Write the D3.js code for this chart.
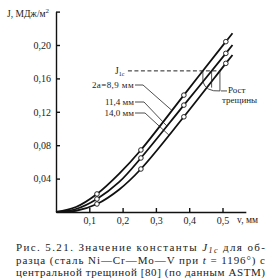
<!DOCTYPE html>
<html>
<head>
<meta charset="utf-8">
<script src="https://cdn.jsdelivr.net/npm/d3@7"></script>
<style>
  body { margin: 0; background: #fff; }
  svg text { font-family: "Liberation Serif", "DejaVu Serif", serif; }
</style>
</head>
<body>
<div id="chart"></div>
<script>
// data
var seriesNames = ["2а=8,9 мм", "11,4 мм", "14,0 мм"];
var vPoints = [0, 0.06, 0.123, 0.19, 0.255, 0.384, 0.51, 0.53];
var jSeries1 = [0, 0.006, 0.0216, 0.046, 0.0743, 0.140, 0.204, 0.214];
var jSeries2 = [0, 0.0036, 0.0156, 0.036, 0.0647, 0.128, 0.190, 0.200];
var jSeries3 = [0, 0.0015, 0.0096, 0.027, 0.0515, 0.114, 0.178, 0.188];
var markerV = [0.123, 0.255, 0.384, 0.51];
var leaderV = [0.348, 0.333, 0.339];
var j1c = 0.169;
var j1cStartV = 0.216;
var xTicks = [0.1, 0.2, 0.3, 0.4, 0.5];
var yTicks = [0.04, 0.08, 0.12, 0.16, 0.20, 0.24];
var captionLines = [
  ["Рис. 5.21. Значение константы ", "J", "1c", " для об-"],
  ["разца (сталь Ni—Cr—Mo—V при ", "t", "", " = 1196°) с"],
  ["центральной трещиной [80] (по данным ASTM)", "", "", ""]
];

var width = 271, height = 278;
var svg = d3.select("#chart").append("svg")
    .attr("width", width)
    .attr("height", height);

var x = d3.scaleLinear().domain([0, 0.57]).range([56, 56 + 0.57 * 333]);
var y = d3.scaleLinear().domain([0, 0.24]).range([212, 212 - 0.24 * 835]);

var comma = function(f) { return function(d) { return d3.format(f)(d).replace(".", ","); }; };

// axes
var xAxis = d3.axisBottom(x).tickValues(xTicks).tickSizeInner(-4).tickSizeOuter(0)
    .tickPadding(5).tickFormat(comma(".1f"));
var yAxis = d3.axisLeft(y).tickValues(yTicks).tickSizeInner(-4).tickSizeOuter(0)
    .tickPadding(5).tickFormat(function(d) { return d > 0.21 ? "" : comma(".2f")(d); });

var gx = svg.append("g").attr("transform", "translate(0," + y(0) + ")").call(xAxis);
var gy = svg.append("g").attr("transform", "translate(" + x(0) + ",0)").call(yAxis);
[gx, gy].forEach(function(g) {
  g.attr("font-family", null);
  g.selectAll("path, line").attr("stroke", "#111").attr("stroke-width", 1.4);
  g.selectAll("text").attr("fill", "#222").style("font-size", "10px");
});

// axis titles
var yTitle = svg.append("text").attr("x", 7).attr("y", 17)
    .style("font-size", "9.5px").attr("fill", "#222");
yTitle.append("tspan").text("J, МДж/м");
yTitle.append("tspan").attr("dy", -4).style("font-size", "7px").text("2");

svg.append("text").attr("x", 237).attr("y", 223)
    .style("font-size", "9.5px").attr("fill", "#222").text("v, мм");

// curves
var allSeries = [jSeries1, jSeries2, jSeries3].map(function(js) {
  return vPoints.map(function(v, i) { return {v: v, j: js[i]}; });
});

function interpJ(pts, v) {
  for (var i = 1; i < pts.length; i++) {
    if (v <= pts[i].v) {
      var t = (v - pts[i-1].v) / (pts[i].v - pts[i-1].v);
      return pts[i-1].j + t * (pts[i].j - pts[i-1].j);
    }
  }
  return pts[pts.length - 1].j;
}
function interpV(pts, j) {
  for (var i = 1; i < pts.length; i++) {
    if (j <= pts[i].j) {
      var t = (j - pts[i-1].j) / (pts[i].j - pts[i-1].j);
      return pts[i-1].v + t * (pts[i].v - pts[i-1].v);
    }
  }
  return pts[pts.length - 1].v;
}

var line_value = d3.line()
    .x(function(d) { return x(d.v); })
    .y(function(d) { return y(d.j); })
    .curve(d3.curveCatmullRom);

svg.selectAll(".curve").data(allSeries).enter().append("path")
    .attr("class", "curve")
    .attr("d", line_value)
    .attr("fill", "none")
    .attr("stroke", "#111")
    .attr("stroke-width", 1.8);

// J1c dashed line up to the lowest curve
var crossV = allSeries.map(function(pts) { return interpV(pts, j1c); });
svg.append("line")
    .attr("x1", x(j1cStartV)).attr("x2", x(crossV[2]))
    .attr("y1", y(j1c)).attr("y2", y(j1c))
    .attr("stroke", "#222").attr("stroke-width", 1)
    .attr("stroke-dasharray", "4,2.5");

var j1cLabel = svg.append("text").attr("x", 115).attr("y", 74)
    .style("font-size", "9.5px").attr("fill", "#222");
j1cLabel.append("tspan").text("J");
j1cLabel.append("tspan").attr("dy", 2).style("font-size", "6px").text("1c");

// crack growth marks
var dropJ = [0.156, 0.149, 0.145];
crossV.forEach(function(v, i) {
  svg.append("line")
      .attr("x1", x(v)).attr("x2", x(v))
      .attr("y1", y(j1c)).attr("y2", y(dropJ[i]))
      .attr("stroke", "#222").attr("stroke-width", 0.8);
});
svg.append("path")
    .attr("d", "M" + x(crossV[0]) + "," + y(dropJ[0]) +
               " Q" + (x(crossV[0]) + 3) + "," + (y(dropJ[2]) + 1) +
               " " + x(crossV[2]) + "," + y(dropJ[2]))
    .attr("fill", "none").attr("stroke", "#222").attr("stroke-width", 0.8);
svg.append("line")
    .attr("x1", x(crossV[2]) + 1).attr("x2", 227)
    .attr("y1", y(dropJ[2])).attr("y2", y(dropJ[2]))
    .attr("stroke", "#222").attr("stroke-width", 0.8);
svg.append("text").attr("x", 228).attr("y", 93)
    .style("font-size", "9px").attr("fill", "#222").text("Рост");
svg.append("text").attr("x", 222).attr("y", 103)
    .style("font-size", "9px").attr("fill", "#222").text("трещины");

// series labels with leaders
var labelY = [85, 102, 113];
allSeries.forEach(function(pts, i) {
  svg.append("text").attr("x", 134).attr("y", labelY[i] + 3)
      .attr("text-anchor", "end")
      .style("font-size", "9px")
      .style("letter-spacing", i === 0 ? "0.4px" : "0px")
      .attr("fill", "#222")
      .text(seriesNames[i]);
  var ev = leaderV[i];
  svg.append("path")
      .attr("d", "M135," + labelY[i] + " L" + (143 + i) + "," + labelY[i] +
                 " L" + x(ev) + "," + y(interpJ(pts, ev)))
      .attr("fill", "none").attr("stroke", "#222").attr("stroke-width", 0.8);
});

// markers
allSeries.forEach(function(pts) {
  svg.selectAll(null).data(markerV).enter().append("circle")
      .attr("cx", function(v) { return x(v); })
      .attr("cy", function(v) { return y(interpJ(pts, v)); })
      .attr("r", 2.3)
      .attr("fill", "#fff")
      .attr("stroke", "#111")
      .attr("stroke-width", 0.9);
});

// caption
captionLines.forEach(function(parts, i) {
  var t = svg.append("text")
      .attr("x", 16).attr("y", 251 + i * 12.5)
      .attr("textLength", 249).attr("lengthAdjust", "spacing")
      .style("font-size", "11px").attr("fill", "#222");
  t.append("tspan").text(parts[0]);
  if (parts[1]) t.append("tspan").style("font-style", "italic").text(parts[1]);
  if (parts[2]) t.append("tspan").attr("dy", 2).style("font-size", "8px")
      .style("font-style", "italic").text(parts[2]);
  if (parts[3]) t.append("tspan").attr("dy", parts[2] ? -2 : 0).text(parts[3]);
});
</script>
</body>
</html>
